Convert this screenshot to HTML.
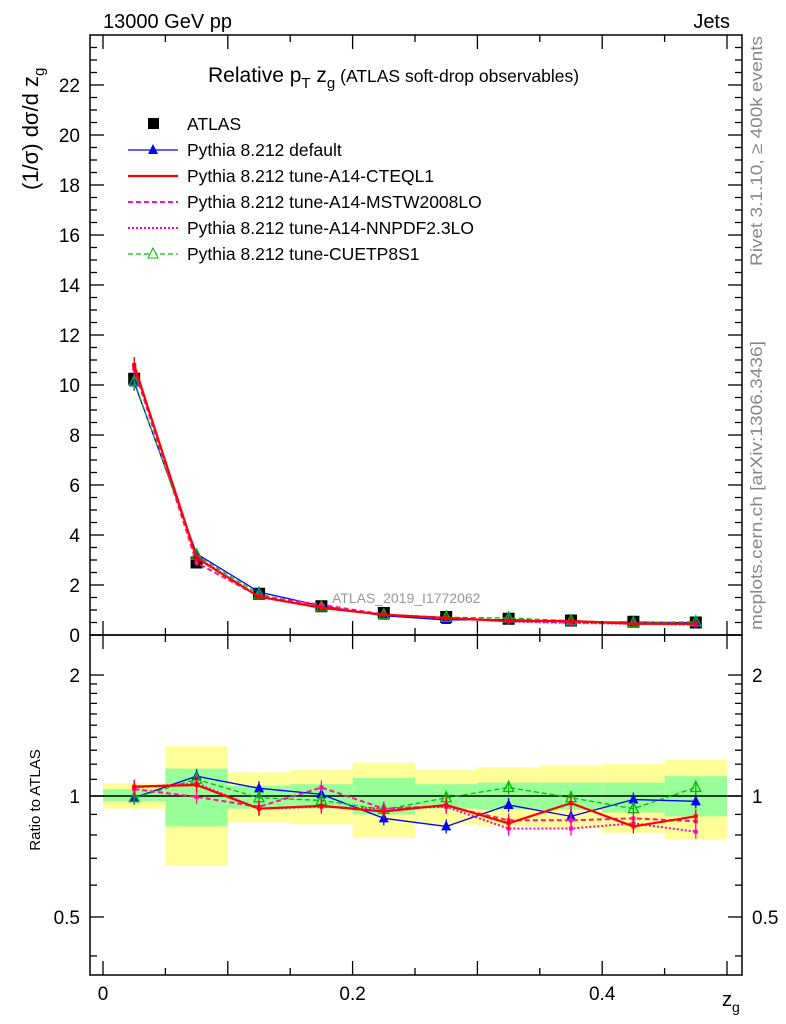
<!DOCTYPE html>
<html><head><meta charset="utf-8"><style>
body{margin:0;background:#fff;}
svg{display:block;font-family:"Liberation Sans",sans-serif;}
</style></head><body>
<svg id="c" width="786" height="1024" viewBox="0 0 786 1024">
<g id="bands"></g>
<g id="marks"></g>
<g id="axes"></g>
<text x="103" y="28" font-size="20">13000 GeV pp</text>
<text x="730" y="28" font-size="20" text-anchor="end">Jets</text>
<text x="208" y="82" font-size="21">Relative p<tspan font-size="15" dy="6">T</tspan><tspan dy="-6"> z</tspan><tspan font-size="15" dy="6">g</tspan><tspan dy="-6" font-size="17.5"> (ATLAS soft-drop observables)</tspan></text>
<text transform="translate(38,190) rotate(-90)" font-size="22">(1/σ) dσ/d z<tspan font-size="15" dy="6">g</tspan></text>
<text transform="translate(40,800) rotate(-90)" font-size="15" text-anchor="middle">Ratio to ATLAS</text>
<text x="722" y="1006" font-size="20">z<tspan font-size="14" dy="6">g</tspan></text>
<text transform="translate(762,266) rotate(-90)" font-size="17" textLength="230" lengthAdjust="spacingAndGlyphs" fill="#888">Rivet 3.1.10, ≥ 400k events</text>
<text transform="translate(762,630) rotate(-90)" font-size="17" textLength="289" lengthAdjust="spacingAndGlyphs" fill="#888">mcplots.cern.ch [arXiv:1306.3436]</text>
<text x="332" y="603" font-size="14" fill="#999">ATLAS_2019_I1772062</text>
<g id="legend"></g>
</svg>
<script>
const xCenters=[0.025,0.075,0.125,0.175,0.225,0.275,0.325,0.375,0.425,0.475];
const dataVals=[10.25,2.9,1.65,1.15,0.88,0.72,0.65,0.58,0.53,0.5];
const mcDefault=[10.1,3.25,1.72,1.16,0.77,0.6,0.62,0.52,0.52,0.49];
const mcCTEQ=[10.8,3.08,1.53,1.09,0.81,0.68,0.56,0.56,0.45,0.45];
const mcMSTW=[10.65,2.89,1.55,1.21,0.82,0.68,0.57,0.5,0.47,0.43];
const mcNNPDF=[10.75,3.12,1.53,1.08,0.82,0.68,0.54,0.48,0.45,0.41];
const mcCUETP=[10.15,3.19,1.63,1.12,0.81,0.71,0.68,0.57,0.49,0.53];
const rDefault=[0.99,1.12,1.045,1.01,0.88,0.84,0.95,0.89,0.98,0.97];
const rCTEQ=[1.055,1.065,0.93,0.945,0.915,0.95,0.855,0.96,0.84,0.89];
const rMSTW=[1.04,0.995,0.94,1.05,0.93,0.945,0.87,0.87,0.88,0.865];
const rNNPDF=[1.05,1.075,0.93,0.94,0.93,0.94,0.83,0.83,0.855,0.815];
const rCUETP=[0.99,1.10,0.99,0.975,0.925,0.99,1.05,0.99,0.93,1.05];
const yellowHi=[1.075,1.33,1.145,1.16,1.21,1.16,1.18,1.19,1.20,1.23];
const yellowLo=[0.93,0.67,0.86,0.85,0.79,0.85,0.84,0.83,0.81,0.78];
const greenHi=[1.04,1.17,1.06,1.07,1.11,1.07,1.08,1.08,1.08,1.12];
const greenLo=[0.97,0.84,0.93,0.93,0.90,0.93,0.925,0.925,0.91,0.89];
const yTicks=[0,2,4,6,8,10,12,14,16,18,20,22];
const rTicks=[0.5,1,2];
const xTicks=[0,0.2,0.4];

const NS='http://www.w3.org/2000/svg';
const L=90,R=742,T=35,MB=635,RB=975;
const X=v=>103+v*1248;
const Y=v=>635-25*v;
const RY=r=>796-121*Math.log2(r);
function mk(tag,attrs,parent){const e=document.createElementNS(NS,tag);for(const k in attrs)e.setAttribute(k,attrs[k]);parent.appendChild(e);return e;}
const bands=document.getElementById('bands'),marks=document.getElementById('marks'),axes=document.getElementById('axes'),legend=document.getElementById('legend');

xCenters.forEach((c,i)=>{
  let b=mk('rect',{x:X(c-0.025),y:RY(yellowHi[i]),width:X(0.05)-X(0),height:RY(yellowLo[i])-RY(yellowHi[i]),fill:'#ffff99'},bands);
  
  
  let g=mk('rect',{x:X(c-0.025),y:RY(greenHi[i]),width:X(0.05)-X(0),height:RY(greenLo[i])-RY(greenHi[i]),fill:'#99ff99'},bands);
  
  
});
let one=mk('line',{x1:L,x2:R,y1:RY(1),y2:RY(1),stroke:'#000','stroke-width':1.5},bands);



const series=[
 {name:'default',m:mcDefault,r:rDefault,col:'#0000ff',w:1.3,dash:'',mk:'tri'},
 {name:'cuetp8s1',m:mcCUETP,r:rCUETP,col:'#00bb00',w:1.3,dash:'5,3',mk:'otri'},
 {name:'mstw2008lo',m:mcMSTW,r:rMSTW,col:'#ff1493',w:2,dash:'5,3',mk:'dot'},
 {name:'nnpdf23lo',m:mcNNPDF,r:rNNPDF,col:'#ff00cc',w:2,dash:'2,2',mk:'dot'},
 {name:'cteql1',m:mcCTEQ,r:rCTEQ,col:'#ff0000',w:2.2,dash:'',mk:'dot'}
];
function marker(s,x,y,par,eh){
  if(s.mk==='tri'){let p=mk('polygon',{points:`${x},${y-6} ${x-5},${y+4} ${x+5},${y+4}`,fill:s.col},par);}
  else if(s.mk==='otri'){let p=mk('polygon',{points:`${x},${y-6} ${x-5},${y+4} ${x+5},${y+4}`,fill:'none',stroke:s.col,'stroke-width':1.3},par);}
  else {let p=mk('rect',{x:x-2,y:y-2,width:4,height:4,fill:s.col},par);}
  let e=mk('line',{x1:x,x2:x,y1:y-eh,y2:y+eh,stroke:s.col,'stroke-width':1.3},par);
  
  
}
xCenters.forEach((c,i)=>{
  let r=mk('rect',{x:X(c)-6,y:Y(dataVals[i])-6,width:12,height:12,fill:'#000'},marks);
  
  
});
series.forEach(s=>{
  let p=mk('polyline',{points:xCenters.map((c,i)=>X(c)+','+Y(s.m[i])).join(' '),fill:'none',stroke:s.col,'stroke-width':s.w,'stroke-dasharray':s.dash},marks);
  
  
  let q=mk('polyline',{points:xCenters.map((c,i)=>X(c)+','+RY(s.r[i])).join(' '),fill:'none',stroke:s.col,'stroke-width':s.w,'stroke-dasharray':s.dash},marks);
  
  
  xCenters.forEach((c,i)=>{marker(s,X(c),Y(s.m[i]),marks,i===0?8:3);marker(s,X(c),RY(s.r[i]),marks,7);});
});

[[T,MB],[MB,RB]].forEach(([a,b])=>{let f=mk('rect',{x:L,y:a,width:R-L,height:b-a,fill:'none',stroke:'#000','stroke-width':1.5},axes);});
for(let v=0;v<=23.9;v+=0.5){const maj=Math.abs(v%2)<1e-6;const y=Y(v);const l=maj?14:7;
  mk('line',{x1:L,x2:L+l,y1:y,y2:y,stroke:'#000','stroke-width':1.3},axes);mk('line',{x1:R,x2:R-l,y1:y,y2:y,stroke:'#000','stroke-width':1.3},axes);}
yTicks.forEach(v=>{let t=mk('text',{x:80,y:Y(v)+7,'font-size':19,'text-anchor':'end'},axes);t.textContent=String(v);});
[0.4,0.5,0.6,0.7,0.8,0.9,1,1.1,1.2,1.3,1.4,1.5,1.6,1.7,1.8,1.9,2].forEach(r=>{const maj=[0.5,1,2].includes(r);const y=RY(r);const l=maj?14:7;
  mk('line',{x1:L,x2:L+l,y1:y,y2:y,stroke:'#000','stroke-width':1.3},axes);mk('line',{x1:R,x2:R-l,y1:y,y2:y,stroke:'#000','stroke-width':1.3},axes);});
rTicks.forEach(r=>{let t=mk('text',{x:80,y:RY(r)+7,'font-size':19,'text-anchor':'end'},axes);t.textContent=String(r);
  let t2=mk('text',{x:752,y:RY(r)+7,'font-size':19},axes);t2.textContent=String(r);});
for(let k=0;k<=10;k++){const v=k*0.05;const x=X(v);const maj=k%2===0;const l=maj?14:7;
  [[MB,-1],[RB,-1],[T,1],[MB,1]].forEach(([y0,d])=>mk('line',{x1:x,x2:x,y1:y0,y2:y0+d*l,stroke:'#000','stroke-width':1.3},axes));}
xTicks.forEach(v=>{let t=mk('text',{x:X(v),y:1000,'font-size':19,'text-anchor':'middle'},axes);t.textContent=v===0?'0':String(v);});

const leg=[['ATLAS',null],['Pythia 8.212 default',series[0]],['Pythia 8.212 tune-A14-CTEQL1',series[4]],['Pythia 8.212 tune-A14-MSTW2008LO',series[2]],['Pythia 8.212 tune-A14-NNPDF2.3LO',series[3]],['Pythia 8.212 tune-CUETP8S1',series[1]]];
leg.forEach(([txt,s],i)=>{const y=124+i*26;
  if(!s){mk('rect',{x:148,y:y-6,width:11,height:11,fill:'#000'},legend);}
  else{mk('line',{x1:128,x2:178,y1:y,y2:y,stroke:s.col,'stroke-width':s.w,'stroke-dasharray':s.dash},legend);
    if(s.mk==='tri')mk('polygon',{points:`153,${y-6} 148,${y+4} 158,${y+4}`,fill:s.col},legend);
    if(s.mk==='otri')mk('polygon',{points:`153,${y-6} 148,${y+4} 158,${y+4}`,fill:'#fff',stroke:s.col},legend);}
  let t=mk('text',{x:187,y:y+6,'font-size':17.5},legend);t.textContent=txt;
  
  
});
</script>
</body></html>
